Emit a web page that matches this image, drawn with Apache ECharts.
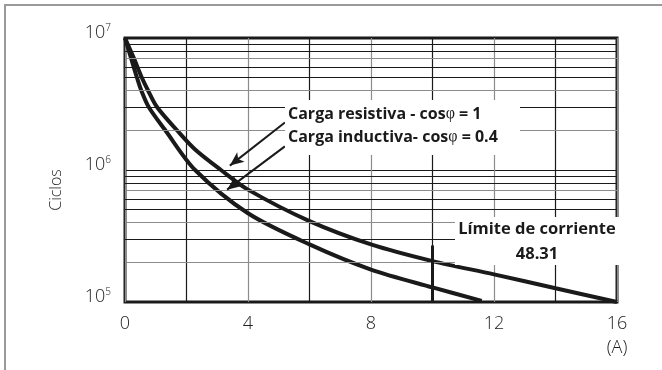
<!DOCTYPE html>
<html>
<head>
<meta charset="utf-8">
<script src="https://cdn.jsdelivr.net/npm/echarts@6/dist/echarts.min.js"></script>
<style>
html,body{margin:0;padding:0;background:#fff;}
#chart{width:662px;height:370px;}
</style>
</head>
<body>
<div id="chart"></div>
<script>
// ---- data ----
const resistiveA      = [0, 0.28, 0.55, 0.75, 1.04, 1.69, 2.28, 3.12, 4, 6, 8, 10, 12, 14, 16];
const resistiveCycles = [1e7, 7.1e6, 5e6, 4e6, 3e6, 2e6, 1.43e6, 1e6, 7.1e5, 4.1e5, 2.73e5, 2.04e5, 1.62e5, 1.27e5, 1e5];
const inductiveA      = [0, 0.2, 0.39, 0.53, 0.77, 1.31, 2.28, 4, 6, 8, 10, 11.6];
const inductiveCycles = [1e7, 7e6, 5e6, 4e6, 3e6, 2e6, 1e6, 4.7e5, 2.73e5, 1.76e5, 1.29e5, 1.02e5];
const xTickLabels = ['0', '4', '8', '12', '16'];
const yTickExponents = [5, 6, 7];
const minorMantissas = [2, 3, 4, 5, 6, 7, 8, 9];
const minorDecades = [1e5, 1e6];
const currentLimit = [10, 2.68e5];   // [A, cycles] top of limit line
const seriesNames = ['Carga resistiva - cosφ = 1', 'Carga inductiva- cosφ = 0.4'];

// ---- build ----
const zip = (xs, ys) => xs.map((x, i) => [x, ys[i]]);
const grayMantissas = [2, 4, 7];
const gridLines = [];
minorDecades.forEach(d => minorMantissas.forEach(m => {
  gridLines.push({ yAxis: m * d, lineStyle: { color: grayMantissas.includes(m) ? '#8c8c8c' : '#1a1a1a', width: 1.2, type: 'solid' } });
}));

const chart = echarts.init(document.getElementById('chart'), null, { renderer: 'canvas' });
const labelFont = '"Open Sans", sans-serif';
const boldFont = '"Open Sans", "Noto Sans", sans-serif';

chart.setOption({
  animation: false,
  grid: { left: 125, top: 38, width: 492, height: 264, show: true, borderColor: '#1a1a1a', borderWidth: 3, backgroundColor: 'transparent' },
  xAxis: {
    type: 'value', min: 0, max: 16, interval: 2,
    axisLine: { show: false },
    axisTick: { show: false },
    splitLine: { show: true, lineStyle: { color: ['#8c8c8c', '#1a1a1a'], width: 1.2 } },
    axisLabel: {
      margin: 10, color: '#222', fontFamily: labelFont, fontWeight: 300, fontSize: 18, lineHeight: 24,
      formatter: v => {
        const s = String(v);
        if (!xTickLabels.includes(s)) return '';
        return v === 16 ? s + '\n(A)' : s;
      }
    }
  },
  yAxis: {
    type: 'log', logBase: 10, min: 1e5, max: 1e7,
    axisLine: { show: false },
    axisTick: { show: false },
    splitLine: { show: true, lineStyle: { color: '#1a1a1a', width: 1.2 } },
    axisLabel: {
      margin: 14, color: '#222', fontFamily: labelFont, fontWeight: 300,
      verticalAlign: 'middle', padding: [0, 0, 11, 0],
      formatter: v => {
        const e = Math.round(Math.log10(v));
        return yTickExponents.includes(e) ? '{b|10}{s|' + e + '}' : '';
      },
      rich: {
        b: { fontSize: 18, fontFamily: labelFont, fontWeight: 300, color: '#222', lineHeight: 18 },
        s: { fontSize: 10, fontFamily: labelFont, fontWeight: 300, color: '#222', verticalAlign: 'top', lineHeight: 18, padding: [0, 0, 6, 0] }
      }
    }
  },
  series: [
    {
      name: seriesNames[0], type: 'line', data: zip(resistiveA, resistiveCycles),
      smooth: 0.3, showSymbol: false, symbol: 'none',
      lineStyle: { color: '#1a1a1a', width: 4 }, z: 3,
      markLine: {
        silent: true, symbol: 'none', label: { show: false }, animation: false,
        emphasis: { disabled: true },
        data: gridLines
      }
    },
    {
      name: seriesNames[1], type: 'line', data: zip(inductiveA, inductiveCycles),
      smooth: 0.3, showSymbol: false, symbol: 'none',
      lineStyle: { color: '#1a1a1a', width: 4 }, z: 3,
      markLine: {
        silent: true, label: { show: false }, animation: false,
        emphasis: { disabled: true },
        symbol: ['none', 'arrow'], symbolSize: [9, 14],
        lineStyle: { color: '#1a1a1a', width: 2, type: 'solid' },
        data: [
          [{ coord: [5.2, 2.29e6] }, { coord: [3.41, 1.08e6] }],
          [{ coord: [5.2, 1.51e6] }, { coord: [3.32, 7.1e5] }],
          [{ coord: [currentLimit[0], 1e5], symbol: 'none' }, { coord: currentLimit, symbol: 'none', lineStyle: { width: 3 } }]
        ]
      }
    }
  ],
  graphic: [
    { type: 'polyline', z: 1, shape: { points: [[5, 370], [5, 5], [662, 5]] }, style: { stroke: '#9a9a9a', lineWidth: 2, fill: null } },
    { type: 'rect', z: 10, shape: { x: 285, y: 100, width: 235, height: 55 }, style: { fill: '#fff' } },
    { type: 'rect', z: 10, shape: { x: 455, y: 217, width: 170, height: 48 }, style: { fill: '#fff' } },
    { type: 'text', z: 11, left: 288, top: 106, style: {
        text: '{t|Carga resistiva - cos}{p|φ}{t| = 1}',
        rich: { t: { fontFamily: boldFont, fontWeight: 'bold', fontSize: 16, fill: '#1a1a1a' }, p: { fontFamily: 'Liberation Serif', fontSize: 16, fill: '#1a1a1a' } } } },
    { type: 'text', z: 11, left: 288, top: 129, style: {
        text: '{t|Carga inductiva- cos}{p|φ}{t| = 0.4}',
        rich: { t: { fontFamily: boldFont, fontWeight: 'bold', fontSize: 16, fill: '#1a1a1a' }, p: { fontFamily: 'Liberation Serif', fontSize: 16, fill: '#1a1a1a' } } } },
    { type: 'text', z: 11, x: 537, y: 229, style: { text: 'Límite de corriente', align: 'center', verticalAlign: 'middle', fontFamily: boldFont, fontWeight: 'bold', fontSize: 16.5, fill: '#1a1a1a' } },
    { type: 'text', z: 11, x: 537, y: 254, style: { text: '48.31', align: 'center', verticalAlign: 'middle', fontFamily: boldFont, fontWeight: 'bold', fontSize: 16.5, fill: '#1a1a1a' } },
    { type: 'text', z: 11, x: 56, y: 190, rotation: Math.PI / 2, style: { text: 'Ciclos', align: 'center', verticalAlign: 'middle', fontFamily: labelFont, fontWeight: 300, fontSize: 16, fill: '#222' } }
  ]
});
</script>
</body>
</html>
